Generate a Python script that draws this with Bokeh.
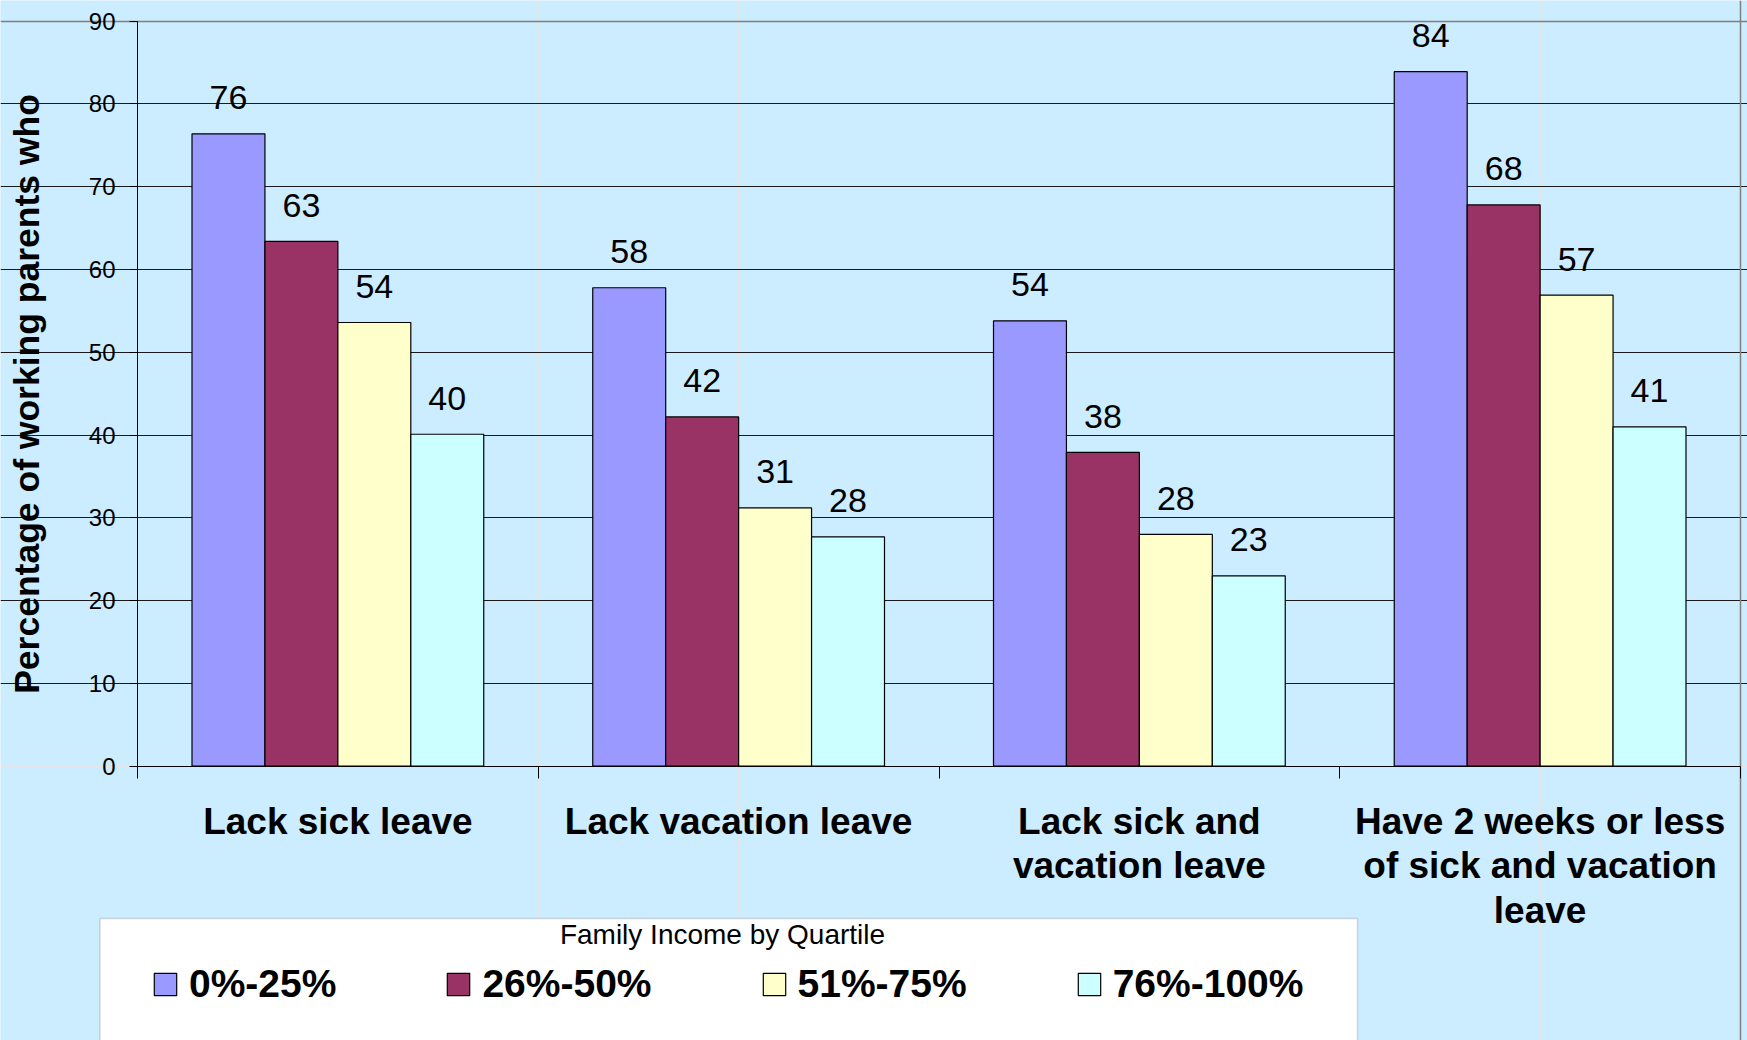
from bokeh.plotting import figure
from bokeh.models import (ColumnDataSource, FixedTicker, Range1d, Legend, LegendItem,
                          LinearAxis, Grid, BoxAnnotation)
from bokeh.embed import file_html
from bokeh.resources import INLINE
from bokeh.core.properties import value

# ---------------- data ----------------
categories = [
    "Lack sick leave",
    "Lack vacation leave",
    "Lack sick and\nvacation leave",
    "Have 2 weeks or less\nof sick and vacation\nleave",
]
series_names = ["0%-25%", "26%-50%", "51%-75%", "76%-100%"]
q1_values = [76.4, 57.8, 53.8, 83.9]
q2_values = [63.4, 42.2, 37.9, 67.8]
q3_values = [53.6, 31.2, 28.0, 56.9]
q4_values = [40.1, 27.7, 23.0, 41.0]
y_ticks = [0, 10, 20, 30, 40, 50, 60, 70, 80, 90]
legend_title = "Family Income by Quartile"
y_title = "Percentage of working parents who"

# ---------------- style / layout ----------------
colors = ["#9999FF", "#993366", "#FFFFCC", "#CCFFFF"]
BG = "#CCECFF"
FONT = "Liberation Sans"
BAR_W = 0.182
GROUP_PAD = (1 - 4 * BAR_W) / 2
W, H = 1747, 1040
X_LEFT_PX, PX_PER_X = 137.0, 400.75     # plot area left edge, px per category
Y_ZERO_PX, PX_PER_Y = 765.7, 8.2778     # baseline position, px per percent


def dx(px):  # canvas pixel -> x coordinate
    return (px - X_LEFT_PX) / PX_PER_X


def dy(py):  # canvas pixel -> y coordinate
    return (Y_ZERO_PX - py) / PX_PER_Y


series = [q1_values, q2_values, q3_values, q4_values]
ncat = len(categories)
y_max = y_ticks[-1]

x_range = Range1d(dx(0), dx(W))
y_range = Range1d(dy(H), dy(0))

p = figure(width=W, height=H, x_range=x_range, y_range=y_range,
           x_axis_location=None, y_axis_location=None,
           output_backend="svg", toolbar_location=None, min_border=0)
p.background_fill_color = BG
p.border_fill_color = BG
p.outline_line_color = None

# grid lines inside the plot area
p.add_layout(Grid(dimension=1, ticker=FixedTicker(ticks=y_ticks[1:-1]), bounds=(0, ncat),
                  grid_line_color="#1a1a1a", grid_line_width=1))
p.add_layout(Grid(dimension=1, ticker=FixedTicker(ticks=[y_max]), bounds=(0, ncat),
                  grid_line_color="#808080", grid_line_width=1.5))
p.add_layout(Grid(dimension=0, ticker=FixedTicker(ticks=[ncat]), bounds=(0, y_max),
                  grid_line_color="#808080", grid_line_width=1.5))

# legend box (white panel below the chart)
p.add_layout(BoxAnnotation(left=dx(99.5), right=dx(1357), top=dy(918), bottom=dy(1070),
                           fill_color="white", fill_alpha=1.0,
                           line_color="#808080", line_width=1.5, level="underlay"))

# y axis
ya = LinearAxis(fixed_location=0, bounds=(0, y_max), ticker=FixedTicker(ticks=y_ticks))
ya.axis_line_color = "black"
ya.major_tick_line_color = "black"
ya.major_tick_out = 8
ya.major_tick_in = 0
ya.minor_tick_line_color = None
ya.major_label_standoff = 14
ya.major_label_text_font = FONT
ya.major_label_text_font_size = "24px"
ya.major_label_text_color = "black"
ya.axis_label = y_title
ya.axis_label_text_font = FONT
ya.axis_label_text_font_style = "bold"
ya.axis_label_text_font_size = "35.5px"
ya.axis_label_text_color = "black"
ya.axis_label_standoff = 39
p.add_layout(ya, "left")

# x axis: labels at category centers, tick marks at category boundaries
centers = [i + 0.5 for i in range(ncat)]
bounds = [i for i in range(ncat + 1)]
xa = LinearAxis(fixed_location=0, bounds=(0, ncat),
                ticker=FixedTicker(ticks=centers, minor_ticks=bounds))
xa.major_label_overrides = {c: lab for c, lab in zip(centers, categories)}
xa.axis_line_color = "black"
xa.major_tick_line_color = None
xa.major_tick_out = 0
xa.major_tick_in = 0
xa.minor_tick_line_color = "black"
xa.minor_tick_out = 12
xa.minor_tick_in = 0
xa.major_label_standoff = 23
xa.major_label_text_font = FONT
xa.major_label_text_font_style = "bold"
xa.major_label_text_font_size = "37px"
xa.major_label_text_color = "black"
xa.major_label_text_line_height = 1.08
p.add_layout(xa, "below")

renderers = []
for j, (name, vals, col) in enumerate(zip(series_names, series, colors)):
    xs = [i + GROUP_PAD + BAR_W * (j + 0.5) for i in range(ncat)]
    src = ColumnDataSource(dict(x=xs, top=vals, lab=[f"{v:.0f}" for v in vals]))
    r = p.vbar(x="x", top="top", width=BAR_W, bottom=0, source=src,
               fill_color=col, line_color="black", line_width=1.2)
    renderers.append(r)
    p.text(x="x", y="top", text="lab", source=src, text_align="center",
           text_baseline="alphabetic", y_offset=-36,
           text_font=value(FONT), text_font_size="34px", text_color="black")

# legend title
p.text(x=[dx(722)], y=[dy(934)], text=[legend_title], text_align="center",
       text_baseline="middle", text_font=value(FONT), text_font_size="28px",
       text_color="black")

legend = Legend(
    items=[LegendItem(label=n, renderers=[r]) for n, r in zip(series_names, renderers)],
    orientation="horizontal",
    location=(151, 34),
    glyph_width=28, glyph_height=28,
    label_standoff=10, spacing=108, padding=0, margin=0,
    border_line_color=None,
    background_fill_alpha=0.0,
    label_text_font=FONT, label_text_font_style="bold",
    label_text_font_size="39px", label_text_color="black",
)
p.add_layout(legend)

open("out.html", "w").write(file_html(p, INLINE))
